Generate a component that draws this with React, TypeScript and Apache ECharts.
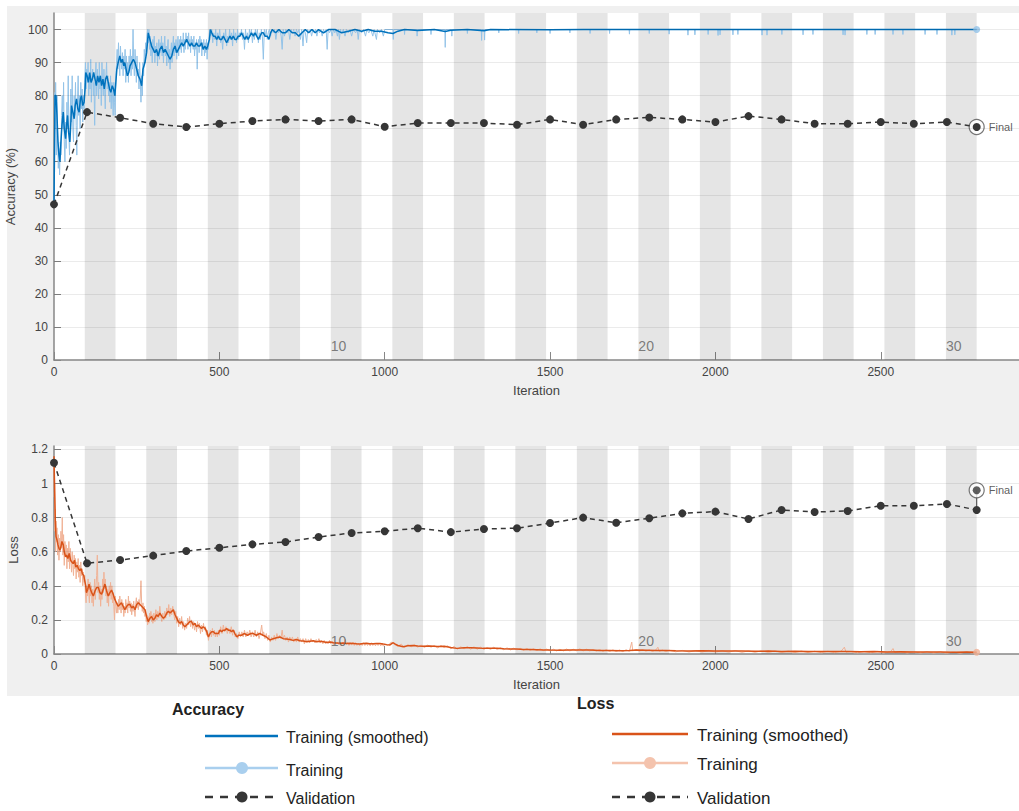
import React, { useEffect, useRef } from 'react';
import * as echarts from 'echarts';

// ---------- data ----------
const EPOCHS = 30;
const ITERS_PER_EPOCH = 93;
const X_MAX = 2918;
const ACC_MAX = 105;
const LOSS_MAX = 1.22;
const iterTicks = [0, 500, 1000, 1500, 2000, 2500];
const accTicks = [0, 10, 20, 30, 40, 50, 60, 70, 80, 90, 100];
const lossTicks = [0, 0.2, 0.4, 0.6, 0.8, 1, 1.2];
const epochLabels = [10, 20, 30];
const accEpochLabelY = 4.2;
const lossEpochLabelY = 0.076;
const lossFinalPinY = 0.96;

const valIters = [0, 100, 200, 300, 400, 500, 600, 700, 800, 900, 1000, 1100, 1200, 1300, 1400, 1500, 1600, 1700, 1800, 1900, 2000, 2100, 2200, 2300, 2400, 2500, 2600, 2700, 2790];
const valAcc = [47.1, 75.0, 73.3, 71.5, 70.5, 71.5, 72.3, 72.8, 72.3, 72.8, 70.6, 71.7, 71.7, 71.7, 71.2, 72.8, 71.2, 72.8, 73.4, 72.8, 72.0, 73.8, 72.8, 71.5, 71.5, 72.0, 71.5, 72.0, 70.5];
const valLoss = [1.122, 0.532, 0.551, 0.577, 0.604, 0.623, 0.643, 0.657, 0.686, 0.71, 0.72, 0.738, 0.715, 0.733, 0.738, 0.768, 0.8, 0.77, 0.796, 0.825, 0.835, 0.792, 0.845, 0.833, 0.839, 0.87, 0.87, 0.88, 0.845];

const accSmooth: number[][] = [
  [0,47],[3,80],[6,80],[9,74],[12,66],[15,62],[18,60],[21,66],[24,71],[28,75],[31,70],[35,67],[38,71],[41,74],[44,69],[48,66],[51,72],[53,77],[57,75],[61,73],[64,77],[68,79],[72,76],[76,75],[80,79],[83,80],[87,77],[91,78],[94,82],[96,87],[100,86],[104,84],[108,87],[112,84],[116,85],[120,87],[124,85],[128,83],[132,86],[136,84],[140,86],[144,83],[148,85],[152,82],[156,85],[160,86],[164,84],[168,82],[172,81],[176,83],[180,82],[184,80],[187,84],[190,88],[194,90],[199,92],[203,90],[207,91],[211,89],[214,90],[218,88],[222,86],[226,87],[230,89],[235,90],[240,91],[245,90],[250,88],[255,86],[260,85],[265,83],[269,88],[275,90],[280,93],[285,99],[290,97],[295,95],[300,94],[305,93],[310,94],[315,92],[320,94],[326,95],[331,93],[336,94],[341,93],[346,92],[351,91],[356,92],[361,94],[366,95],[371,93],[376,94],[381,95],[386,96],[391,95],[396,96],[401,97],[406,96],[411,95],[416,96],[421,95],[426,95],[431,96],[436,95],[441,95],[446,96],[451,94],[456,95],[461,94],[465,95],[470,97],[473,100],[477,99],[482,98],[487,98],[492,97],[497,98],[502,97],[507,97],[512,98],[517,97],[522,96],[527,97],[532,98],[537,97],[542,98],[547,97],[552,97],[557,98],[562,98],[567,99],[572,98],[577,97],[582,98],[587,97],[592,98],[597,99],[603,98],[608,99],[613,98],[618,97],[623,98],[628,99],[633,99],[638,98],[645,98],[650,97],[655,99],[660,100],[670,99],[680,100],[690,99],[700,99],[710,100],[720,99],[730,99],[740,98],[750,99],[760,100],[770,99],[780,100],[790,99],[800,100],[815,99],[830,100],[850,100],[870,99],[890,99.5],[910,100],[930,99.5],[950,100],[970,99.5],[990,99.5],[1010,99],[1025,98.8],[1040,99.5],[1060,100],[1100,99.7],[1150,100],[1183,99.4],[1200,99.8],[1250,100],[1300,99.6],[1320,100],[1500,99.9],[1600,100],[1800,100],[2000,100],[2200,100],[2400,100],[2600,100],[2790,100]
];

const accRaw: number[][] = [
  [0,47],[1,56],[2,72],[3,81],[4,70],[5,84],[6,76],[7,62],[9,80],[11,68],[13,58],[15,64],[17,56],[19,66],[21,62],[23,74],[25,80],[27,70],[29,84],[31,66],[33,60],[35,72],[37,64],[39,78],[41,70],[43,86],[45,68],[47,62],[49,74],[51,82],[53,72],[55,86],[57,70],[59,66],[61,80],[63,74],[65,84],[67,71],[69,62],[71,78],[73,86],[75,74],[77,80],[79,70],[81,84],[83,76],[85,82],[87,72],[89,80],[91,76],[93,84],[95,90],[97,82],[99,88],
  [101,84],[103,90],[105,80],[107,86],[109,82],[111,91],[113,78],[115,86],[117,88],[119,80],[121,84],[123,71],[125,86],[127,90],[129,80],[131,88],[133,84],[135,79],[137,90],[139,82],[141,86],[143,77],[145,90],[147,84],[149,80],[151,88],[153,82],[155,76],[157,86],[159,90],[161,82],[163,86],[165,80],[167,84],[169,78],[171,86],[173,76],[175,84],[177,80],[179,74],[181,84],[183,78],[185,74],[187,86],[189,90],
  [191,94],[193,88],[195,96],[197,90],[199,86],[201,95],[203,90],[205,88],[207,93],[209,86],[211,92],[213,88],[215,94],[217,84],[219,92],[221,86],[223,90],[225,84],[227,92],[229,88],[231,94],[233,86],[235,92],[237,88],[239,100],[241,90],[243,86],[245,94],[247,90],[249,84],[251,92],[253,86],[255,88],[257,82],[259,90],[261,84],[263,78],[265,86],[267,80],[269,90],[271,86],[273,94],[275,90],[277,96],[279,92],[281,98],[283,100],[285,96],[287,100],[289,94],
  [291,98],[293,92],[295,96],[297,90],[299,97],[301,93],[303,98],[305,90],[307,95],[309,92],[311,96],[313,89],[315,94],[317,97],[319,91],[321,96],[323,93],[325,98],[327,92],[329,96],[331,90],[333,95],[335,98],[337,92],[339,95],[341,89],[343,94],[345,97],[347,90],[349,94],[351,88],[353,93],[355,96],[357,90],[359,95],[361,98],[363,92],[365,96],[367,93],[369,97],[371,91],[373,95],[375,98],[377,92],[379,97],[381,94],[383,98],[385,93],[387,97],[389,95],[391,99],[393,93],[395,97],[397,94],[399,99],[401,96],[403,98],[405,94],[407,99],[409,95],[411,97],[413,93],[415,98],[417,95],[419,97],[421,94],[423,98],[425,92],[427,96],[429,94],[431,97],[433,88],[435,95],[437,97],[439,93],[441,98],[443,95],[445,97],[447,92],[449,96],[451,94],[453,97],[455,92],[457,96],[459,93],[461,97],[463,91],[465,96],[467,94],[469,98],[471,100],
  [474,98],[477,100],[480,96],[483,99],[486,97],[489,100],[492,95],[495,99],[498,97],[501,100],[504,96],[507,98],[510,94],[513,99],[516,97],[519,100],[522,95],[525,98],[528,96],[531,100],[534,97],[537,99],[540,95],[543,100],[546,97],[549,99],[552,96],[555,100],[558,97],[561,99],[564,98],[567,100],[570,97],[573,99],[576,94],[579,100],[582,97],[585,99],[588,96],[591,100],[594,98],[597,100],[600,96],[603,99],[606,97],[609,100],[612,98],[615,100],[618,96],[621,99],[624,97],[627,100],[630,98],[633,91],[636,100],[639,98],[642,100],[645,97],[648,99],[651,100],
  [655,98],[659,100],[663,99],[667,100],[671,97],[675,100],[679,99],[683,100],[687,98],[690,94],[693,100],[697,98],[701,100],[705,99],[709,100],[713,97],[717,100],[721,99],[725,100],[729,98],[733,100],[737,99],[741,100],[745,97],[749,100],[753,95],[756,100],[760,99],[764,96],[767,100],[771,99],[775,100],[779,98],[783,100],[787,99],[791,100],[795,98],[799,100],[803,99],[807,100],[811,98],[815,100],[819,99],[823,100],[826,94],[829,100],[833,99],[837,100],[841,98],[845,100],[849,99],[853,100],[857,98],[860,100],[863,97],[866,100],[870,99],[875,100],[880,98],[884,100],[890,99],[895,100],[900,98],[905,100],[912,99],[917,100],[920,97],[923,100],[930,99],[936,100],[942,98],[946,100],[952,99],[958,100],[964,98],[968,100],[975,97],[978,100],[985,99],[990,100],[996,98],[1000,100],
  [1025,100],[1026,97],[1027,100],[1059,100],[1060,98.5],[1061,100],[1097,100],[1098,98],[1099,100],[1139,100],[1140,98.5],[1141,100],[1182,100],[1183,94.6],[1184,100],[1202,100],[1203,98],[1204,100],[1249,100],[1250,98.8],[1251,100],[1292,100],[1293,96.7],[1294,100],[1301,100],[1302,96.8],[1303,100],[1344,100],[1345,99],[1346,100],[1404,100],[1405,98.8],[1406,100],[1459,100],[1460,99],[1461,100],[1499,100],[1500,98.8],[1501,100],[1559,100],[1560,99],[1561,100],[1620,100],[1621,98.8],[1622,100],[1679,100],[1680,98.8],[1681,100],[1739,100],[1740,98.6],[1741,100],[1799,100],[1800,98.8],[1801,100],[1859,100],[1860,98.6],[1861,100],[1916,100],[1917,98.3],[1918,100],[1937,100],[1938,98.4],[1939,100],[1977,100],[1978,98.5],[1979,100],[2007,100],[2008,98.2],[2009,100],[2013,100],[2014,98.4],[2015,100],[2052,100],[2053,98.4],[2054,100],[2067,100],[2068,98.5],[2069,100],[2140,100],[2141,98.3],[2142,100],[2155,100],[2156,98.3],[2157,100],[2200,100],[2201,98.5],[2202,100],[2264,100],[2265,98.4],[2266,100],[2294,100],[2295,98.5],[2296,100],[2385,100],[2386,98.4],[2387,100],[2391,100],[2392,98.3],[2393,100],[2457,100],[2458,98.5],[2459,100],[2482,100],[2483,98.5],[2484,100],[2536,100],[2537,98.5],[2538,100],[2566,100],[2567,98.5],[2568,100],[2633,100],[2634,98.5],[2635,100],[2669,100],[2670,98.5],[2671,100],[2714,100],[2715,98.3],[2716,100],[2723,100],[2724,98.4],[2725,100],[2790,100]
];

const lossSmooth: number[][] = [
  [0,1.16],[1,1.05],[2,0.96],[4,0.78],[6,0.69],[9,0.67],[12,0.64],[15,0.62],[18,0.61],[21,0.63],[24,0.66],[28,0.64],[31,0.6],[35,0.57],[38,0.58],[42,0.56],[46,0.59],[50,0.55],[54,0.54],[58,0.53],[62,0.55],[66,0.51],[70,0.52],[74,0.5],[78,0.49],[82,0.5],[86,0.47],[90,0.46],[93,0.43],[96,0.4],[98,0.36],[102,0.38],[106,0.41],[110,0.38],[114,0.36],[119,0.34],[124,0.37],[129,0.39],[134,0.39],[139,0.36],[144,0.35],[149,0.38],[154,0.41],[159,0.37],[164,0.34],[169,0.36],[174,0.375],[179,0.35],[184,0.32],[189,0.3],[194,0.28],[199,0.29],[204,0.3],[209,0.28],[214,0.26],[220,0.28],[225,0.29],[230,0.29],[235,0.27],[240,0.28],[245,0.26],[250,0.29],[255,0.3],[260,0.29],[265,0.28],[270,0.27],[275,0.26],[280,0.22],[285,0.19],[290,0.21],[295,0.22],[300,0.2],[305,0.21],[310,0.23],[315,0.22],[320,0.24],[326,0.22],[331,0.21],[336,0.22],[341,0.24],[346,0.25],[351,0.24],[356,0.25],[361,0.26],[366,0.23],[371,0.21],[376,0.19],[381,0.18],[386,0.19],[391,0.17],[396,0.16],[401,0.17],[406,0.18],[411,0.19],[416,0.19],[421,0.17],[426,0.18],[431,0.16],[436,0.17],[441,0.16],[446,0.15],[451,0.16],[457,0.15],[462,0.13],[467,0.1],[472,0.12],[477,0.13],[482,0.13],[487,0.12],[492,0.12],[497,0.12],[502,0.14],[507,0.13],[512,0.14],[517,0.14],[522,0.15],[527,0.14],[532,0.14],[537,0.13],[542,0.14],[547,0.12],[553,0.1],[558,0.11],[562,0.11],[567,0.11],[575,0.12],[585,0.11],[595,0.12],[603,0.12],[612,0.11],[622,0.12],[632,0.11],[642,0.1],[653,0.082],[663,0.09],[673,0.095],[683,0.1],[693,0.09],[703,0.088],[713,0.085],[723,0.08],[733,0.085],[744,0.078],[754,0.076],[764,0.072],[774,0.075],[784,0.078],[794,0.072],[804,0.075],[815,0.072],[825,0.068],[835,0.07],[845,0.066],[855,0.065],[865,0.063],[875,0.064],[885,0.062],[895,0.063],[905,0.062],[915,0.06],[925,0.059],[935,0.062],[945,0.063],[955,0.06],[965,0.06],[975,0.062],[985,0.062],[996,0.058],[1006,0.055],[1016,0.053],[1022,0.062],[1026,0.066],[1032,0.058],[1040,0.05],[1056,0.043],[1070,0.048],[1085,0.05],[1100,0.047],[1115,0.045],[1137,0.047],[1160,0.044],[1180,0.045],[1200,0.038],[1218,0.033],[1240,0.036],[1260,0.037],[1280,0.035],[1298,0.033],[1320,0.034],[1340,0.033],[1360,0.031],[1380,0.03],[1400,0.029],[1419,0.027],[1440,0.026],[1460,0.025],[1480,0.024],[1500,0.023],[1530,0.022],[1560,0.023],[1590,0.023],[1620,0.023],[1650,0.021],[1680,0.02],[1710,0.019],[1740,0.02],[1762,0.023],[1790,0.022],[1820,0.021],[1850,0.02],[1880,0.019],[1920,0.018],[1960,0.019],[2000,0.018],[2040,0.017],[2080,0.017],[2120,0.016],[2160,0.017],[2200,0.015],[2240,0.016],[2280,0.015],[2320,0.014],[2360,0.015],[2400,0.014],[2440,0.013],[2480,0.014],[2520,0.012],[2560,0.013],[2600,0.011],[2640,0.012],[2680,0.011],[2720,0.01],[2760,0.011],[2790,0.01]
];

const lossRaw: number[][] = [
  [0,1.14],[1,0.92],[2,1.0],[3,0.72],[4,0.85],[5,0.6],[6,0.78],[7,0.66],[9,0.74],[11,0.58],[13,0.7],[15,0.55],[17,0.68],[19,0.6],[21,0.72],[23,0.62],[25,0.8],[27,0.58],[29,0.7],[31,0.52],[33,0.66],[35,0.58],[37,0.64],[39,0.5],[41,0.62],[43,0.54],[45,0.66],[47,0.5],[49,0.62],[51,0.56],[53,0.48],[55,0.6],[57,0.52],[59,0.46],[61,0.58],[63,0.5],[65,0.56],[67,0.44],[69,0.54],[71,0.48],[73,0.56],[75,0.45],[77,0.52],[79,0.42],[81,0.54],[83,0.46],[85,0.5],[87,0.4],[89,0.48],[91,0.42],[93,0.46],[95,0.36],[97,0.3],[99,0.4],
  [101,0.34],[103,0.44],[105,0.36],[107,0.3],[109,0.42],[111,0.34],[113,0.4],[115,0.3],[117,0.38],[119,0.28],[121,0.36],[123,0.44],[125,0.32],[127,0.4],[129,0.46],[131,0.58],[133,0.36],[135,0.42],[137,0.32],[139,0.4],[141,0.28],[143,0.38],[145,0.32],[147,0.44],[149,0.36],[151,0.48],[153,0.38],[155,0.44],[157,0.34],[159,0.4],[161,0.3],[163,0.38],[165,0.28],[167,0.4],[169,0.34],[171,0.42],[173,0.32],[175,0.4],[177,0.3],[179,0.36],[181,0.28],[183,0.2],[185,0.34],[187,0.28],[189,0.24],
  [191,0.3],[193,0.24],[195,0.32],[197,0.26],[199,0.34],[201,0.28],[203,0.24],[205,0.32],[207,0.26],[209,0.3],[211,0.22],[213,0.28],[215,0.24],[217,0.32],[219,0.26],[221,0.3],[223,0.24],[225,0.34],[227,0.27],[229,0.31],[231,0.25],[233,0.3],[235,0.23],[237,0.29],[239,0.25],[241,0.31],[243,0.26],[245,0.22],[247,0.29],[249,0.33],[251,0.27],[253,0.31],[255,0.26],[257,0.32],[259,0.28],[261,0.34],[263,0.43],[265,0.3],[267,0.25],[269,0.3],[271,0.24],[273,0.28],[275,0.22],[277,0.26],[279,0.19],[281,0.23],[283,0.17],[285,0.22],[287,0.18],[289,0.24],[291,0.2],[293,0.25],[295,0.19],[297,0.23],[299,0.18],
  [302,0.24],[305,0.19],[308,0.26],[311,0.2],[314,0.25],[317,0.21],[320,0.28],[323,0.22],[326,0.19],[329,0.24],[332,0.2],[335,0.25],[338,0.21],[341,0.27],[344,0.23],[347,0.29],[350,0.22],[353,0.27],[356,0.23],[359,0.28],[362,0.24],[365,0.2],[368,0.25],[371,0.18],[374,0.22],[377,0.16],[380,0.21],[383,0.17],[386,0.22],[389,0.15],[392,0.19],[395,0.14],[398,0.18],[401,0.15],[404,0.21],[407,0.17],[410,0.22],[413,0.16],[416,0.2],[419,0.15],[422,0.19],[425,0.14],[428,0.18],[431,0.13],[434,0.19],[437,0.15],[440,0.18],[443,0.12],[446,0.17],[449,0.13],[452,0.18],[455,0.14],[458,0.16],[461,0.11],[464,0.14],[467,0.08],[470,0.12],[473,0.14],[476,0.1],[479,0.15],[482,0.11],[485,0.14],[488,0.1],[491,0.13],[494,0.1],[497,0.14],[500,0.11],
  [504,0.16],[508,0.12],[512,0.17],[516,0.13],[520,0.16],[524,0.12],[528,0.15],[532,0.12],[536,0.16],[540,0.11],[544,0.14],[548,0.1],[552,0.12],[556,0.09],[560,0.13],[564,0.1],[568,0.13],[572,0.1],[576,0.14],[580,0.1],[584,0.13],[588,0.11],[592,0.14],[596,0.1],[600,0.13],[604,0.1],[608,0.14],[612,0.1],[616,0.13],[620,0.09],[624,0.12],[628,0.17],[631,0.11],[634,0.13],[638,0.09],[642,0.12],[646,0.08],[650,0.11],[654,0.07],[658,0.1],[662,0.08],[666,0.11],[670,0.08],[674,0.12],[678,0.09],[682,0.11],[686,0.09],[690,0.14],[693,0.09],[697,0.11],[701,0.08],[705,0.1],[709,0.07],[713,0.1],[717,0.08],[721,0.1],[725,0.07],[729,0.09],[733,0.07],[737,0.1],[741,0.07],[745,0.09],[749,0.07],[753,0.09],[757,0.06],[761,0.09],[765,0.07],[769,0.085],[773,0.065],[777,0.09],[781,0.07],[785,0.08],[789,0.065],[793,0.085],[797,0.07],[801,0.09],[805,0.065],[809,0.08],[813,0.06],[817,0.08],[821,0.06],[825,0.075],[829,0.06],[833,0.08],[837,0.06],[841,0.075],[845,0.055],[849,0.072],[853,0.058],[857,0.07],[861,0.055],[865,0.07],[869,0.05],[873,0.068],[877,0.055],[881,0.085],[884,0.055],[888,0.068],[892,0.05],[896,0.065],[900,0.052],[904,0.07],[908,0.05],[912,0.066],[916,0.05],[920,0.064],[924,0.048],[928,0.062],[932,0.05],[936,0.066],[940,0.05],[944,0.064],[948,0.05],[952,0.062],[956,0.048],[960,0.066],[964,0.05],[968,0.064],[972,0.048],[976,0.062],[980,0.05],[984,0.064],[988,0.048],[992,0.06],[996,0.046],[1000,0.056],
  [1010,0.05],[1020,0.07],[1030,0.055],[1040,0.045],[1050,0.058],[1060,0.038],[1070,0.055],[1080,0.042],[1090,0.056],[1100,0.04],[1110,0.053],[1120,0.038],[1130,0.052],[1140,0.04],[1150,0.05],[1160,0.036],[1170,0.05],[1180,0.038],[1190,0.048],[1200,0.03],[1210,0.045],[1220,0.028],[1230,0.042],[1240,0.03],[1250,0.044],[1260,0.028],[1270,0.042],[1280,0.028],[1290,0.04],[1300,0.027],[1310,0.038],[1320,0.027],[1330,0.04],[1340,0.026],[1350,0.037],[1360,0.025],[1370,0.036],[1380,0.024],[1390,0.034],[1400,0.024],[1410,0.033],[1420,0.022],[1430,0.032],[1440,0.021],[1450,0.031],[1460,0.02],[1470,0.03],[1480,0.02],[1490,0.029],[1500,0.018],[1510,0.028],[1520,0.018],[1530,0.028],[1540,0.018],[1550,0.029],[1560,0.018],[1570,0.028],[1580,0.019],[1590,0.03],[1600,0.018],[1610,0.028],[1620,0.018],[1630,0.027],[1640,0.017],[1650,0.026],[1660,0.016],[1670,0.025],[1680,0.015],[1690,0.024],[1700,0.015],[1710,0.024],[1720,0.014],[1730,0.025],[1740,0.016],[1747,0.07],[1750,0.018],[1760,0.026],[1770,0.017],[1780,0.025],[1790,0.016],[1800,0.024],[1810,0.015],[1820,0.024],[1826,0.04],[1830,0.016],[1840,0.023],[1850,0.014],
  [1860,0.022],[1880,0.013],[1900,0.021],[1920,0.012],[1940,0.02],[1960,0.012],[1980,0.021],[2000,0.011],[2020,0.019],[2040,0.011],[2060,0.02],[2080,0.01],[2100,0.018],[2120,0.01],[2140,0.019],[2160,0.009],[2180,0.018],[2200,0.009],[2220,0.017],[2240,0.009],[2260,0.017],[2280,0.008],[2300,0.016],[2320,0.008],[2340,0.016],[2360,0.008],[2380,0.016],[2390,0.04],[2395,0.01],[2410,0.015],[2430,0.007],[2450,0.015],[2470,0.007],[2490,0.015],[2510,0.007],[2530,0.014],[2537,0.032],[2542,0.008],[2560,0.014],[2580,0.006],[2600,0.013],[2620,0.006],[2640,0.013],[2660,0.006],[2680,0.012],[2700,0.005],[2720,0.012],[2740,0.005],[2760,0.012],[2775,0.006],[2790,0.01]
];

// ---------- styles ----------
const FONT = 'Liberation Sans, Arial, Helvetica, sans-serif';
const BLUE = '#0072BD';
const BLUE_LIGHT = '#93c3e8';
const ORANGE = '#D95319';
const ORANGE_LIGHT = '#f0b296';
const VAL = '#363636';
const AXIS = '#878787';
const LABEL = '#444444';

const App: React.FC = () => {
  const ref = useRef<HTMLDivElement>(null);

  useEffect(() => {
    if (!ref.current) return;
    const chart = echarts.init(ref.current, undefined, { renderer: 'svg' });

    const stripes: number[][] = [];
    for (let e = 2; e <= EPOCHS; e += 2) stripes.push([(e - 1) * ITERS_PER_EPOCH, e * ITERS_PER_EPOCH]);

    const stripeSeries = (idx: number) => ({
      type: 'custom',
      xAxisIndex: idx,
      yAxisIndex: idx,
      z: 1,
      silent: true,
      clip: true,
      encode: { x: [0, 1] },
      data: stripes,
      renderItem: (params: any, api: any) => {
        const cs = params.coordSys;
        const x0 = api.coord([api.value(0), 0])[0];
        const x1 = api.coord([api.value(1), 0])[0];
        return {
          type: 'rect',
          shape: { x: x0, y: cs.y, width: x1 - x0, height: cs.height },
          style: { fill: 'rgba(0,0,0,0.1)' },
        };
      },
    });

    const gridLines = (ticks: number[]) => ({
      silent: true,
      symbol: 'none',
      label: { show: false },
      emphasis: { disabled: true },
      lineStyle: { color: 'rgba(0,0,0,0.08)', width: 1, type: 'solid' },
      data: ticks.filter((t) => t > 0).map((t) => ({ yAxis: t })),
    });

    const xAxis = (idx: number) => ({
      gridIndex: idx,
      type: 'value',
      min: 0,
      max: X_MAX,
      interval: 500,
      name: 'Iteration',
      nameLocation: 'middle',
      nameGap: 24,
      nameTextStyle: { fontSize: 13, color: LABEL, fontFamily: FONT },
      axisLine: { show: true, lineStyle: { color: AXIS, width: 1.5 } },
      axisTick: { show: true, inside: true, length: 8, customValues: iterTicks, lineStyle: { color: AXIS, width: 1 } },
      axisLabel: {
        fontSize: 12,
        color: LABEL,
        margin: 6,
        fontFamily: FONT,
        customValues: iterTicks,
        formatter: (v: number) => (iterTicks.includes(v) ? String(v) : ''),
      },
      splitLine: { show: false },
    });

    const yAxis = (idx: number, name: string, max: number, interval: number, ticks: number[]) => ({
      gridIndex: idx,
      type: 'value',
      min: 0,
      max,
      interval,
      name,
      nameLocation: 'middle',
      nameGap: 26,
      nameTextStyle: { fontSize: 13, color: LABEL, fontFamily: FONT },
      axisLine: { show: true, lineStyle: { color: AXIS, width: 1.5 } },
      axisTick: { show: true, inside: true, length: 7, customValues: ticks, lineStyle: { color: AXIS, width: 1 } },
      axisLabel: {
        fontSize: 12,
        color: LABEL,
        margin: 6,
        fontFamily: FONT,
        customValues: ticks,
        formatter: (v: number) => (ticks.some((t) => Math.abs(t - v) < 1e-9) ? String(+v.toFixed(1)) : ''),
      },
      splitLine: { show: false },
    });

    const epochLabelSeries = (idx: number, y: number) => ({
      type: 'scatter',
      xAxisIndex: idx,
      yAxisIndex: idx,
      z: 6,
      silent: true,
      symbolSize: 0,
      data: epochLabels.map((e) => [(e - 1) * ITERS_PER_EPOCH, y, e]),
      label: {
        show: true,
        position: 'right',
        distance: 0,
        formatter: (p: any) => String(p.data[2]),
        fontSize: 14,
        color: '#5f5f5f',
        fontFamily: FONT,
      },
    });

    const lastIdx = valIters.length - 1;
    const finalIter = valIters[lastIdx];

    const series: any[] = [
      // ---- accuracy ----
      stripeSeries(0),
      {
        type: 'line', xAxisIndex: 0, yAxisIndex: 0, z: 2, showSymbol: false, symbol: 'none',
        data: accRaw, lineStyle: { color: BLUE_LIGHT, width: 1 }, silent: true,
        markLine: gridLines(accTicks),
      },
      {
        type: 'line', xAxisIndex: 0, yAxisIndex: 0, z: 3, symbol: 'none', silent: true,
        data: accSmooth, lineStyle: { color: BLUE, width: 1.5 },
      },
      {
        type: 'scatter', xAxisIndex: 0, yAxisIndex: 0, z: 3, silent: true, symbolSize: 7,
        data: [accRaw[accRaw.length - 1]], itemStyle: { color: BLUE_LIGHT },
      },
      {
        type: 'scatter', xAxisIndex: 0, yAxisIndex: 0, z: 4, silent: true, symbol: 'circle', symbolSize: 15,
        data: [[finalIter, valAcc[lastIdx]]],
        itemStyle: { color: '#ffffff', borderColor: '#555', borderWidth: 1.2 },
        label: { show: true, position: 'right', distance: 4, formatter: 'Final', fontSize: 11, color: '#333', fontFamily: FONT },
      },
      {
        type: 'line', xAxisIndex: 0, yAxisIndex: 0, z: 5, silent: true,
        data: valIters.map((it, i) => [it, valAcc[i]]),
        symbol: 'circle', symbolSize: 8, showAllSymbol: true,
        itemStyle: { color: VAL }, lineStyle: { color: VAL, width: 1.5, type: [5, 4] },
      },
      epochLabelSeries(0, accEpochLabelY),

      // ---- loss ----
      stripeSeries(1),
      {
        type: 'line', xAxisIndex: 1, yAxisIndex: 1, z: 2, symbol: 'none', silent: true,
        data: lossRaw, lineStyle: { color: ORANGE_LIGHT, width: 1 },
        markLine: gridLines(lossTicks),
      },
      {
        type: 'line', xAxisIndex: 1, yAxisIndex: 1, z: 3, symbol: 'none', silent: true,
        data: lossSmooth, lineStyle: { color: ORANGE, width: 1.5 },
      },
      {
        type: 'scatter', xAxisIndex: 1, yAxisIndex: 1, z: 3, silent: true, symbolSize: 7,
        data: [lossRaw[lossRaw.length - 1]], itemStyle: { color: ORANGE_LIGHT },
      },
      {
        type: 'line', xAxisIndex: 1, yAxisIndex: 1, z: 4, silent: true, symbol: 'none',
        data: [[finalIter, valLoss[lastIdx]], [finalIter, lossFinalPinY]],
        lineStyle: { color: '#555', width: 1.2 },
      },
      {
        type: 'scatter', xAxisIndex: 1, yAxisIndex: 1, z: 4, silent: true, symbol: 'circle', symbolSize: 15,
        data: [[finalIter, lossFinalPinY]],
        itemStyle: { color: '#ffffff', borderColor: '#555', borderWidth: 1.2 },
        label: { show: true, position: 'right', distance: 4, formatter: 'Final', fontSize: 11, color: '#333', fontFamily: FONT },
      },
      {
        type: 'scatter', xAxisIndex: 1, yAxisIndex: 1, z: 5, silent: true, symbol: 'circle', symbolSize: 8,
        data: [[finalIter, lossFinalPinY]], itemStyle: { color: VAL },
      },
      {
        type: 'line', xAxisIndex: 1, yAxisIndex: 1, z: 5, silent: true,
        data: valIters.map((it, i) => [it, valLoss[i]]),
        symbol: 'circle', symbolSize: 8, showAllSymbol: true,
        itemStyle: { color: VAL }, lineStyle: { color: VAL, width: 1.5, type: [5, 4] },
      },
      epochLabelSeries(1, lossEpochLabelY),
    ];

    const txt = (x: number, y: number, text: string, size: number, bold = false) => ({
      type: 'text', x, y, silent: true,
      style: { text, fontSize: size, fontWeight: bold ? 'bold' : 'normal', fill: '#222', fontFamily: FONT, verticalAlign: 'middle', align: 'left' },
    });
    const seg = (x1: number, x2: number, y: number, color: string, dash?: number[]) => ({
      type: 'line', silent: true,
      shape: { x1, y1: y, x2, y2: y },
      style: { stroke: color, lineWidth: 2.5, lineDash: dash },
    });
    const dot = (cx: number, cy: number, color: string, r: number) => ({
      type: 'circle', silent: true, shape: { cx, cy, r }, style: { fill: color },
    });

    const graphic: any[] = [
      { type: 'rect', z: -100, silent: true, shape: { x: 7, y: 6, width: 1012, height: 690 }, style: { fill: '#f0f0f0' } },
      txt(172, 709, 'Accuracy', 16, true),
      seg(205, 278, 736, BLUE),
      txt(286, 737, 'Training (smoothed)', 16),
      seg(205, 278, 768, '#a9cfee'),
      dot(242, 768, '#a9cfee', 6),
      txt(286, 770, 'Training', 16),
      seg(205, 278, 797, VAL, [8, 7]),
      dot(242, 797, VAL, 5.5),
      txt(286, 798, 'Validation', 16),
      txt(577, 703, 'Loss', 16, true),
      seg(612, 688, 734, ORANGE),
      txt(697, 735, 'Training (smoothed)', 17),
      seg(612, 688, 763, '#f4c3ad'),
      dot(650, 763, '#f4c3ad', 6),
      txt(697, 764, 'Training', 17),
      seg(612, 688, 797, VAL, [8, 7]),
      dot(650, 797, VAL, 5.5),
      txt(697, 798, 'Validation', 17),
    ];

    chart.setOption({
      animation: false,
      backgroundColor: '#ffffff',
      textStyle: { fontFamily: FONT },
      grid: [
        { left: 54, top: 13, width: 965, height: 347, show: true, backgroundColor: '#ffffff', borderWidth: 0, containLabel: false, outerBoundsMode: 'none' },
        { left: 54, top: 446, width: 965, height: 208, show: true, backgroundColor: '#ffffff', borderWidth: 0, containLabel: false, outerBoundsMode: 'none' },
      ],
      xAxis: [xAxis(0), xAxis(1)],
      yAxis: [yAxis(0, 'Accuracy (%)', ACC_MAX, 10, accTicks), yAxis(1, 'Loss', LOSS_MAX, 0.2, lossTicks)],
      series,
      graphic,
    });

    return () => chart.dispose();
  }, []);

  return <div ref={ref} style={{ position: 'fixed', left: 0, top: 0, width: 1019, height: 811 }} />;
};

export default App;
